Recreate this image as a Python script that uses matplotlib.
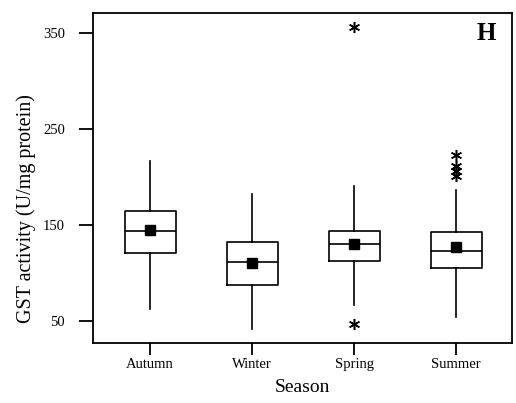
import matplotlib.pyplot as plt

# Seasonal GST activity summary (U/mg protein)
seasons = ['Autumn', 'Winter', 'Spring', 'Summer']
q1 = [121, 87, 112, 105]
median = [144, 111, 130, 123]
q3 = [164, 132, 144, 142]
whisker_low = [62, 41, 66, 54]
whisker_high = [217, 182, 191, 186]
means = [144.5, 110.5, 130.5, 126.5]
outliers = [[], [], [46, 357], [201, 206, 211, 223]]

plt.rcParams['font.family'] = ['Liberation Serif', 'DejaVu Serif']

stats = []
for i, name in enumerate(seasons):
    stats.append({
        'label': name,
        'q1': q1[i], 'med': median[i], 'q3': q3[i],
        'whislo': whisker_low[i], 'whishi': whisker_high[i],
        'mean': means[i], 'fliers': outliers[i],
    })

fig = plt.figure(figsize=(5.16, 4.03), dpi=100)
ax = fig.add_axes([0.180, 0.149, 0.813, 0.819])

line = dict(color='black', linewidth=1.2)
ax.bxp(stats, positions=[1, 2, 3, 4], widths=0.5, showmeans=True,
       showcaps=False,
       boxprops=line, whiskerprops=line, medianprops=line,
       meanprops=dict(marker='s', markerfacecolor='black',
                      markeredgecolor='black', markersize=7),
       flierprops=dict(marker=(6, 2, 0), markeredgecolor='black',
                       markeredgewidth=1.1, markersize=8, linestyle='none'))

ax.set_xlim(0.44, 4.55)
ax.set_ylim(26.7, 371.2)
ax.set_yticks([50, 150, 250, 350])
ax.set_xticks([1, 2, 3, 4])
ax.set_xticklabels(seasons)

for side in ax.spines.values():
    side.set_linewidth(1.3)
ax.tick_params(axis='y', direction='out', length=10, width=1.3, pad=10,
               labelsize=10.5)
ax.tick_params(axis='x', direction='out', length=8.5, width=1.3, pad=2,
               labelsize=10.5)

ax.set_xlabel('Season', fontsize=14, labelpad=6)
ax.set_ylabel('GST activity (U/mg protein)', fontsize=14.5)
ax.yaxis.set_label_coords(-0.136, 0.406)

ax.text(0.939, 0.938, 'H', transform=ax.transAxes, fontsize=18,
        fontweight='bold', ha='center', va='center')

fig.savefig('out.png', dpi=100)
